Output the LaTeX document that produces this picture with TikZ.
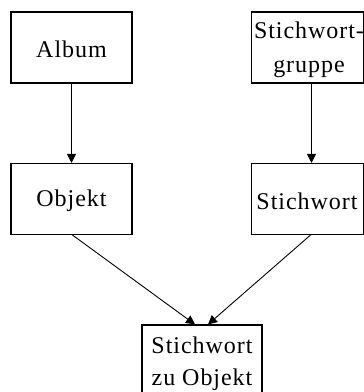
\documentclass[tikz,border=0pt]{standalone}
\usepackage{fontspec}
\setmainfont{Liberation Serif}[LetterSpace=4]
\usetikzlibrary{arrows.meta}
\begin{document}
\begin{tikzpicture}[x=1pt,y=-1pt,
  box/.style={draw,line width=1.1pt,inner sep=0pt,minimum width=121pt,minimum height=71pt},
  lbl/.style={inner sep=0pt,align=center,font=\fontsize{24}{32}\selectfont},
  conn/.style={line width=0.9pt,-{Triangle[width=9pt,length=9pt]}}]
\useasboundingbox (0,0) rectangle (364,392);
\node[box] (a) at (71.5,47.5) {};
\node[lbl] at (71.5,49) {Album};
\node[box,minimum width=112pt] (g) at (307.5,47.5) {};
\node[lbl,font=\fontsize{24}{34}\selectfont] at (309,50) {Stichwort-\\gruppe};
\node[box] (o) at (71.5,199) {};
\node[lbl] at (71.5,201) {Objekt};
\node[box,minimum width=112pt] (s) at (307.5,199) {};
\node[lbl] at (307,201) {Stichwort};
\node[box,minimum width=120pt,minimum height=75pt] (z) at (202,362.5) {};
\node[lbl] at (202,364) {Stichwort\\zu Objekt};
\draw[conn] (a.south) -- (o.north);
\draw[conn] ([xshift=4pt]g.south) -- ([xshift=4pt]s.north);
\draw[conn] ([xshift=1pt]o.south) -- ([xshift=-7pt]z.north);
\draw[conn] ([xshift=3pt]s.south) -- ([xshift=6pt]z.north);
\end{tikzpicture}
\end{document}
